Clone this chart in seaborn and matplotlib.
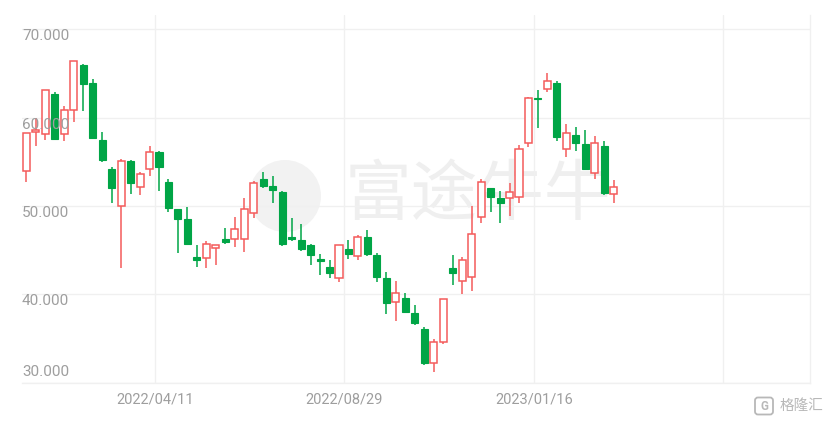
import pandas as pd
import matplotlib.pyplot as plt
import matplotlib.transforms as mtransforms
from matplotlib.patches import Ellipse, FancyBboxPatch
import seaborn as sns

# Weekly candles
week_start = pd.date_range('2022-01-03', periods=63, freq='W-MON')

opens = [53.98, 58.40, 58.17, 62.70, 58.17, 60.88, 65.98, 63.91, 57.49, 54.20,
         50.01, 55.11, 52.20, 54.17, 56.09, 52.76, 49.64, 48.57, 44.27, 44.09,
         45.22, 46.27, 46.27, 46.27, 49.25, 53.04, 52.28, 51.63, 46.47, 46.16,
         45.59, 43.98, 43.07, 41.82, 45.11, 44.35, 46.47, 44.46, 41.82, 39.17,
         39.56, 37.93, 36.05, 32.27, 34.64, 42.96, 41.52, 42.00, 48.80, 52.02,
         50.88, 50.88, 51.00, 57.11, 62.28, 63.23, 63.98, 56.43, 58.05, 57.00,
         53.71, 56.84, 51.37]
highs = [58.31, 59.94, 63.15, 62.96, 61.37, 66.47, 66.05, 64.36, 58.43, 54.39,
         55.30, 55.20, 53.90, 56.81, 56.20, 53.04, 49.70, 49.93, 45.59, 46.05,
         45.60, 47.49, 48.80, 50.88, 52.84, 53.83, 53.41, 51.70, 48.62, 47.97,
         45.70, 44.58, 43.90, 45.59, 46.16, 46.73, 47.29, 44.72, 42.57, 41.55,
         40.12, 38.80, 36.27, 34.95, 39.45, 44.46, 44.20, 50.01, 53.04, 52.10,
         51.74, 52.58, 56.92, 62.30, 63.15, 65.11, 64.20, 59.30, 58.99, 58.62,
         57.94, 57.37, 52.96]
lows = [52.76, 56.84, 57.49, 57.60, 57.41, 59.56, 60.80, 57.68, 55.03, 50.32,
        42.96, 51.37, 51.26, 53.41, 51.74, 49.37, 44.72, 45.60, 43.14, 43.02,
        43.33, 45.71, 45.33, 44.84, 48.62, 52.02, 50.32, 45.48, 46.08, 44.95,
        43.33, 42.20, 41.82, 41.44, 43.98, 43.90, 44.35, 41.44, 37.78, 37.02,
        37.93, 36.53, 32.00, 31.25, 34.38, 41.06, 40.05, 40.42, 48.12, 49.37,
        48.12, 48.88, 50.39, 56.73, 58.88, 62.96, 57.41, 55.53, 56.27, 54.10,
        53.04, 51.26, 50.39]
closes = [58.31, 58.60, 63.15, 57.60, 60.88, 66.47, 63.83, 57.68, 55.22, 52.02,
          55.11, 52.58, 53.64, 56.16, 54.39, 49.75, 48.51, 45.71, 43.90, 45.67,
          45.56, 45.97, 47.41, 49.64, 52.58, 52.31, 51.82, 45.71, 46.24, 45.11,
          44.46, 43.82, 42.39, 45.59, 44.58, 46.47, 44.58, 41.94, 39.06, 40.12,
          38.04, 36.73, 32.27, 34.64, 39.45, 42.46, 43.90, 46.81, 52.76, 51.00,
          50.39, 51.63, 56.43, 62.21, 62.10, 64.20, 57.86, 58.31, 57.11, 54.17,
          57.18, 51.45, 52.20]

price_ticks = [30, 40, 50, 60, 70]
date_ticks = ['2022-04-11', '2022-08-29', '2023-01-16', '2023-06-05']
date_labels = ['2022/04/11', '2022/08/29', '2023/01/16', '']

up_color = '#f45b5b'
down_color = '#00a546'
grid_color = '#f0f0f0'
label_color = '#9e9e9e'
mark_color = '#b8b8b8'

sns.set_theme(style='white')
plt.rcParams['font.family'] = ['Roboto', 'Noto Sans CJK SC', 'DejaVu Sans']

df = pd.DataFrame({'date': week_start + pd.Timedelta(days=3),
                   'open': opens, 'high': highs, 'low': lows, 'close': closes})
df['up'] = df['close'] >= df['open']
df['body_low'] = df[['open', 'close']].min(axis=1)
df['body_h'] = (df['close'] - df['open']).abs().clip(lower=0.18)

fig = plt.figure(figsize=(8.3, 4.24), dpi=100)
ax = fig.add_axes([22 / 830, 1 - 382.7 / 424, (810 - 22) / 830, (382.7 - 15) / 424])

# watermark behind the candles
ax.add_patch(Ellipse((285 / 830, 1 - 196 / 424), 72 / 830, 72 / 424,
                     transform=fig.transFigure, facecolor='#f2f2f2',
                     edgecolor='none', zorder=0.5))
ax.text(478 / 830, 1 - 196 / 424, '富途牛牛', transform=fig.transFigure,
        ha='center', va='center', fontsize=48, color='#efefef',
        family=['Noto Sans CJK SC'], zorder=0.5)

# wicks
for is_up, color in [(True, up_color), (False, down_color)]:
    part = df[df['up'] == is_up]
    ax.vlines(part['date'], part['low'], part['high'], color=color, lw=1.1, zorder=2)

# bodies
width = pd.Timedelta(days=5.2)
up = df[df['up']]
down = df[~df['up']]
ax.bar(up['date'], up['body_h'], bottom=up['body_low'], width=width,
       facecolor='white', edgecolor=up_color, linewidth=1.1, zorder=3)
ax.bar(down['date'], down['body_h'], bottom=down['body_low'], width=width,
       facecolor=down_color, edgecolor=down_color, linewidth=0.8, zorder=3)

ax.set_ylim(30, 71.64)
ax.set_xlim(pd.Timestamp('2022-01-02 19:00'), pd.Timestamp('2023-08-08'))
ax.set_yticks(price_ticks)
ax.set_yticklabels([])
ax.set_xticks(pd.to_datetime(date_ticks))
ax.set_xticklabels(date_labels, color=label_color, fontsize=10.5)
ax.tick_params(axis='both', length=0)
ax.tick_params(axis='x', pad=7)
ax.grid(True, color=grid_color, linewidth=1)
ax.set_axisbelow(True)

for side in ['left', 'top']:
    ax.spines[side].set_visible(False)
for side in ['right', 'bottom']:
    ax.spines[side].set_color(grid_color)
    ax.spines[side].set_linewidth(1)

# price labels sit inside the plot
trans = mtransforms.blended_transform_factory(ax.transAxes, ax.transData)
for p in price_ticks:
    if p == price_ticks[0]:
        ax.text(0.0, p + 0.45, f'{p:.3f}', transform=trans, ha='left', va='bottom',
                color=label_color, fontsize=11, zorder=4)
    else:
        ax.text(0.0, p, f'{p:.3f}', transform=trans, ha='left', va='top',
                color=label_color, fontsize=11, zorder=4)

# corner mark
fig.text(823 / 830, 1 - 406 / 424, '格隆汇', ha='right', va='center',
         fontsize=10.5, color=mark_color, family=['Noto Sans CJK SC'])
fig.patches.append(FancyBboxPatch((755, 424 - 414.5), 18, 17, transform=None,
                                  boxstyle='round,pad=0,rounding_size=3',
                                  facecolor='none', edgecolor=mark_color, lw=1.3))
fig.text(764 / 830, 1 - 406 / 424, 'G', ha='center', va='center',
         fontsize=8.5, color=mark_color, fontweight='bold')

plt.savefig('out.png', dpi=100)
